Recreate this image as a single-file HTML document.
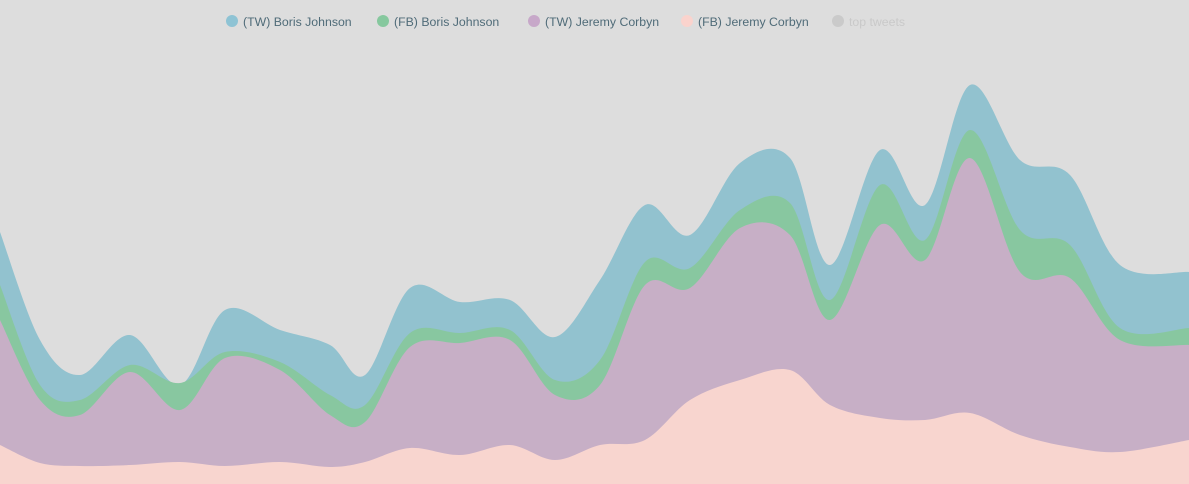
<!DOCTYPE html>
<html><head><meta charset="utf-8"><style>
html,body{margin:0;padding:0;background:#dddddd;width:1189px;height:484px;overflow:hidden;font-family:"Liberation Sans",sans-serif}
.lg{position:absolute;top:15px;font-size:12.3px;color:#4f6b78;white-space:nowrap}
.lg i{display:inline-block;width:12px;height:12px;border-radius:50%;margin-right:5px;vertical-align:-1px}
</style></head><body>
<svg id="s" width="1189" height="484" style="position:absolute;left:0;top:0"></svg>
<div class="lg" style="left:226px"><i style="background:#8ec3d4"></i>(TW) Boris Johnson</div>
<div class="lg" style="left:377px"><i style="background:#86c89e"></i>(FB) Boris Johnson</div>
<div class="lg" style="left:528px"><i style="background:#c7a8c9"></i>(TW) Jeremy Corbyn</div>
<div class="lg" style="left:681px"><i style="background:#fad3cd"></i>(FB) Jeremy Corbyn</div>
<div class="lg" style="left:832px;color:#c9c9c9"><i style="background:#cacaca"></i>top tweets</div>
<script>
var X=[0,40,80,130,180,225,280,330,365,410,460,510,555,600,645,690,740,790,830,880,925,970,1020,1070,1120,1189];
var L=[
["#92c2cf",[232,340,375,335,385,310,330,345,375,288,302,300,337,280,205,235,163,158,265,150,205,85,160,175,265,272]],
["#88c7a0",[285,385,400,365,383,352,362,395,405,333,333,330,380,360,262,268,210,203,300,185,240,130,230,245,328,328]],
["#c7afc6",[320,400,415,372,410,358,370,415,422,347,343,340,395,385,285,288,228,235,320,225,260,158,272,278,340,345]],
["#f8d5cf",[445,463,466,465,462,466,462,467,462,448,455,445,460,445,440,400,380,370,405,418,420,413,435,447,452,440]]];
function path(Y){var d="M"+X[0]+","+Y[0];for(var i=0;i<X.length-1;i++){var p0=i?i-1:i,p3=i+2<X.length?i+2:i+1;
var c1x=X[i]+(X[i+1]-X[p0])/6,c1y=Y[i]+(Y[i+1]-Y[p0])/6,c2x=X[i+1]-(X[p3]-X[i])/6,c2y=Y[i+1]-(Y[p3]-Y[i])/6;
d+=" C"+c1x+","+c1y+" "+c2x+","+c2y+" "+X[i+1]+","+Y[i+1];}return d+" L1189,484 L0,484 Z";}
var s=document.getElementById("s"),h="";
L.forEach(function(l){h+='<path fill="'+l[0]+'" d="'+path(l[1])+'"/>';});
s.innerHTML=h;
</script>
</body></html>
